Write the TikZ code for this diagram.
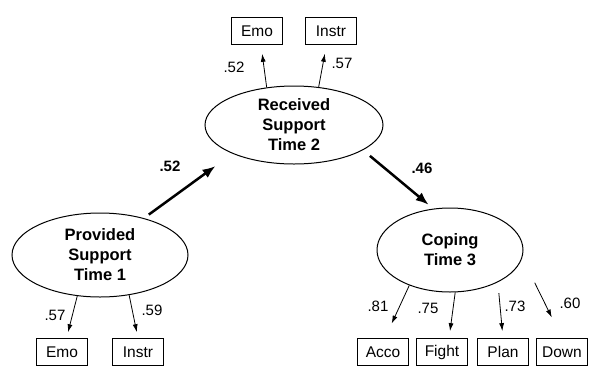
\documentclass[tikz,border=0pt]{standalone}
\usepackage{fontspec}
\setmainfont{Liberation Sans}
\usetikzlibrary{shapes.geometric,arrows.meta}
\begin{document}
\begin{tikzpicture}[x=1pt, y=-1pt,
    latent/.style={draw, ellipse, line width=1pt, inner sep=0pt, align=center, font=\fontsize{16.5}{20}\selectfont\bfseries},
    item/.style={draw, rectangle, line width=0.8pt, minimum width=51pt, minimum height=27pt, inner sep=0pt, font=\fontsize{15.5}{17}\selectfont},
    load/.style={line width=0.8pt, -{Latex[length=8pt,width=5pt]}},
    effect/.style={line width=2.5pt, -{Latex[length=13pt,width=10pt]}},
    coef/.style={font=\fontsize{15}{17}\selectfont},
    bcoef/.style={font=\fontsize{15}{17}\selectfont\bfseries}]
    \useasboundingbox (0,0) rectangle (590,376);

    \node [latent, minimum width=176pt, minimum height=84pt] (prov) at (100,255) {Provided\\Support\\Time 1};
    \node [latent, minimum width=178pt, minimum height=78pt] (rec) at (294,125) {Received\\Support\\Time 2};
    \node [latent, minimum width=146pt, minimum height=84pt] (cop) at (450,250) {Coping\\Time 3};

    \node [item] (remo) at (257,31) {Emo};
    \node [item] (rinstr) at (331,31) {Instr};
    \node [item] (pemo) at (62,352) {Emo};
    \node [item] (pinstr) at (138,352) {Instr};
    \node [item] (acco) at (383,352) {Acco};
    \node [item] (fight) at (442,352) {Fight};
    \node [item] (plan) at (503,352) {Plan};
    \node [item] (down) at (562,352) {Down};

    \draw [effect, shorten <=6pt, shorten >=21pt] (prov.40) -- (rec.205);
    \draw [effect, shorten <=9pt, shorten >=6pt] (rec.340) -- (cop.112);
    \node [bcoef] (b1) at (170,166) {.52};
    \node [bcoef] (b2) at (422,168) {.46};

    \draw [load, shorten >=6pt] (prov.241) -- (pemo.72);
    \draw [load, shorten >=6pt] (prov.306) -- (pinstr.north);
    \draw [load, shorten >=9pt] (rec.126) -- (remo.286);
    \draw [load, shorten >=9pt] (rec.57) -- (rinstr.252);
    \draw [load, shorten >=16pt] (cop.221) -- (acco.82);
    \draw [load, shorten >=7pt] (cop.277) -- (fight.63);
    \draw [load, shorten <=11pt, shorten >=7pt] (cop.326) -- (plan.north);
    \draw [load, shorten <=28pt, shorten >=23pt] (cop.354) -- (down.north);

    \node [coef] (l1) at (55,315) {.57};
    \node [coef] (l2) at (152,310) {.59};
    \node [coef] (l3) at (234,67) {.52};
    \node [coef] (l4) at (342,63) {.57};
    \node [coef] (l5) at (378,306) {.81};
    \node [coef] (l6) at (428,308) {.75};
    \node [coef] (l7) at (515,306) {.73};
    \node [coef] (l8) at (570,303) {.60};
\end{tikzpicture}
\end{document}
